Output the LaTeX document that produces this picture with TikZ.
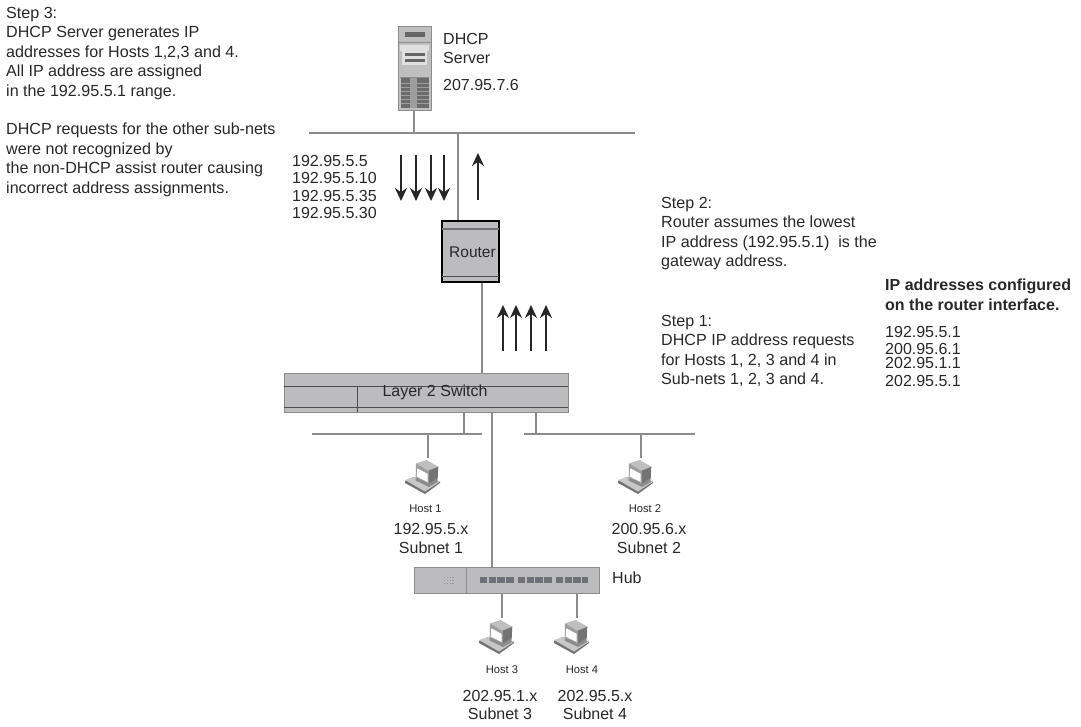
\documentclass[tikz,border=0pt]{standalone}
\usepackage{fontspec}
\setmainfont{Liberation Sans}
\usetikzlibrary{positioning,calc}
\usetikzlibrary{arrows.meta}
\definecolor{BoxGray}{RGB}{188,188,191}
\definecolor{WireGray}{RGB}{140,140,140}
\definecolor{InkGray}{RGB}{40,40,40}
\definecolor{PortGray}{RGB}{112,112,120}
\tikzset{
  wire/.style={draw=WireGray,line width=1.25pt},
  flow/.style={draw=black!85,line width=1.7pt,-{Stealth[length=13pt,width=12pt]}},
  unit/.style={draw=WireGray,fill=BoxGray,line width=1pt,inner sep=0pt},
  rule/.style={draw=black!70,line width=0.8pt},
  note/.style={anchor=north west,align=left,inner sep=0pt,font=\fontsize{16.1}{19.4}\selectfont,text=InkGray},
  addr/.style={anchor=west,inner sep=0pt,font=\fontsize{16}{19}\selectfont,text=InkGray},
  lab/.style={inner sep=0pt,font=\fontsize{16}{19}\selectfont,text=InkGray},
  hostlab/.style={inner sep=0pt,font=\fontsize{11.2}{13}\selectfont,text=InkGray},
  hosticon/.pic={
    \fill[black!55] (-23,23)--(-14.7,19.3)--(12,23.7)--(12,25)--(-3,36)--(-23,25)--cycle;
    \fill[black!22] (-23,22)--(-14.7,19.3)--(12,23.7)--(-3,33.5)--cycle;
    \fill[black!45] (-12.3,19.3)--(1.3,25.3)--(9.7,20.3)--(9.7,24)--(1,29)--(-12.3,22.5)--cycle;
    \fill[black!25] (-12,5.3)--(-1.3,2)--(10.3,8.7)--(0.3,12.7)--cycle;
    \fill[black!38] (-12,5.3)--(0.3,12.7)--(1.3,25.3)--(-12.3,19.3)--cycle;
    \fill[black!55] (0.3,12.7)--(10.3,8.7)--(9.7,20.3)--(1.3,25.3)--cycle;
    \fill[white] (-10.7,10.3)--(-0.3,16)--(-0.3,24)--(-11.3,18.7)--cycle;
  },
}
\begin{document}
\begin{tikzpicture}[x=1pt,y=-1pt]
\useasboundingbox (0,0) rectangle (1081,727);
% buses and free ends
\coordinate (busa) at (458,133);
\coordinate (serverdrop) at (414,133);
\coordinate (routerdrop) at (482,300);
\coordinate (hubdrop) at (492,500);
\coordinate (host1) at (428,458);
\coordinate (host2) at (641,458);
\coordinate (host3) at (502,618);
\coordinate (host4) at (577,618);
\coordinate (lefta) at (428,434);
\coordinate (leftb) at (464,434);
\coordinate (righta) at (536,434);
\coordinate (rightb) at (641,434);
\draw[wire] (309,133)--(635,133);
\draw[wire] (312,434)--(482,434);
\draw[wire] (524,434)--(695,434);
% server
\node[unit,fill=black!25,minimum width=33pt,minimum height=84pt] (server) at (414.5,69) {};
\draw[draw=black!45,line width=.8pt] (398,42)--(431,42);
\fill[black!60] (405,32) rectangle (425,37);
\fill[black!12] (400,45) rectangle (429,51);
\fill[black!12] (402,51) rectangle (427,65);
\fill[black!60] (405,53) rectangle (425,56);
\fill[black!60] (405,59) rectangle (425,62);
\draw[black!45,line width=.6pt] (400,77)--(429,77);
\fill[black!58] (401,78) rectangle (429,108);
\fill[black!38] (410,78) rectangle (417,108);
\foreach \yy in {83,87,91,95,99,103}{\draw[black!38,line width=.5pt] (401,\yy)--(429,\yy);}
% router and switch
\node[unit,draw=black,line width=2pt,minimum width=57pt,minimum height=61pt] (router) at (470.5,251.5) {};
\draw[black!55,line width=1.2pt] (442,229)--(499,229);
\draw[black!70,line width=1pt] (442,277)--(499,277);
\node[lab,font=\fontsize{15.5}{18}\selectfont] (routerlab) at (472.5,252) {Router};
\node[unit,minimum width=284pt,minimum height=39pt] (switch) at (426,392.5) {};
\draw[rule] (284,386)--(568,386);
\draw[rule] (284,407)--(568,407);
\draw[rule] (357,386)--(357,412);
\node[lab] (switchlab) at (435,392) {Layer 2 Switch};
% hub
\node[unit,minimum width=185pt,minimum height=26pt] (hub) at (506.5,580) {};
\draw[wire,line width=.7pt] (466,567)--(466,593);
\foreach \xa/\xb in {480/514,518/552,556/588}{\draw[PortGray,line width=5.5pt,dash pattern=on 7.4pt off 1.3pt] (\xa,580)--(\xb,580);}
\foreach \yy in {577,580,583}{\draw[black!40,line width=.6pt,dash pattern=on 1.4pt off 1.4pt] (444,\yy)--(455,\yy);}
\node[lab,anchor=west] (hublab) at (612,578) {Hub};
% connectors
\draw[wire] (server.south -| serverdrop)--(serverdrop);
\draw[wire] (busa)--(busa |- router.north);
\draw[wire] (router.south -| routerdrop)--(switch.north -| routerdrop);
\draw[wire] (switch.south -| leftb)--(leftb);
\draw[wire] (switch.south -| righta)--(righta);
\draw[wire] (switch.south -| hubdrop)--(hub.north -| hubdrop);
\draw[wire] (lefta)--(host1);
\draw[wire] (rightb)--(host2);
\draw[wire] (hub.south -| host3)--(host3);
\draw[wire] (hub.south -| host4)--(host4);
% hosts
\pic at (host1) {hosticon};
\pic at (host2) {hosticon};
\pic at (host3) {hosticon};
\pic at (host4) {hosticon};
\node[hostlab] (hostlaba) at (425.5,509) {Host 1};
\node[lab] (ipa) at (431,529) {192.95.5.x};
\node[lab] (subneta) at (431,548) {Subnet 1};
\node[hostlab] (hostlabb) at (645,509) {Host 2};
\node[lab] (ipb) at (649,529) {200.95.6.x};
\node[lab] (subnetb) at (649,548) {Subnet 2};
\node[hostlab] (hostlabc) at (502,670) {Host 3};
\node[lab] (ipc) at (500,696) {202.95.1.x};
\node[lab] (subnetc) at (500,714) {Subnet 3};
\node[hostlab] (hostlabd) at (582,670) {Host 4};
\node[lab] (ipd) at (595,696) {202.95.5.x};
\node[lab] (subnetd) at (595,714) {Subnet 4};
% request arrows
\coordinate (upa) at (503,351);
\coordinate (upb) at (516,351);
\coordinate (upc) at (531,351);
\coordinate (upd) at (546,351);
\draw[flow] (upa)--++(0,-46);
\draw[flow] (upb)--++(0,-46);
\draw[flow] (upc)--++(0,-46);
\draw[flow] (upd)--++(0,-46);
\coordinate (downa) at (401,155);
\coordinate (downb) at (416,155);
\coordinate (downc) at (431,155);
\coordinate (downd) at (444,155);
\coordinate (upe) at (478,200);
\draw[flow] (downa)--++(0,46);
\draw[flow] (downb)--++(0,46);
\draw[flow] (downc)--++(0,46);
\draw[flow] (downd)--++(0,46);
\draw[flow] (upe)--++(0,-47);
% text
\node[note] (stepc) at (6,7) {Step 3:\\DHCP Server generates IP\\addresses for Hosts 1,2,3 and 4.\\All IP address are assigned\\in the 192.95.5.1 range.};
\node[note] (stepd) at (6,123) {DHCP requests for the other sub-nets\\were not recognized by\\the non-DHCP assist router causing\\incorrect address assignments.};
\node[note] (stepb) at (661,197) {Step 2:\\Router assumes the lowest\\IP address (192.95.5.1)~ is the\\gateway address.};
\node[note] (stepa) at (661,315) {Step 1:\\DHCP IP address requests\\for Hosts 1, 2, 3 and 4 in\\Sub-nets 1, 2, 3 and 4.};
\node[note,font=\fontsize{16}{19.4}\selectfont\bfseries] (ifhead) at (885,279) {IP addresses configured\\on the router interface.};
\node[addr] (dhcpa) at (443,39) {DHCP};
\node[addr] (dhcpb) at (443,58) {Server};
\node[addr] (dhcpc) at (443,85) {207.95.7.6};
\node[addr] (lista) at (292,161) {192.95.5.5};
\node[addr] (listb) at (292,178) {192.95.5.10};
\node[addr] (listc) at (292,196) {192.95.5.35};
\node[addr] (listd) at (292,213) {192.95.5.30};
\node[addr] (ifa) at (885,332) {192.95.5.1};
\node[addr] (ifb) at (885,349) {200.95.6.1};
\node[addr] (ifc) at (885,363) {202.95.1.1};
\node[addr] (ifd) at (885,381) {202.95.5.1};
\end{tikzpicture}
\end{document}
